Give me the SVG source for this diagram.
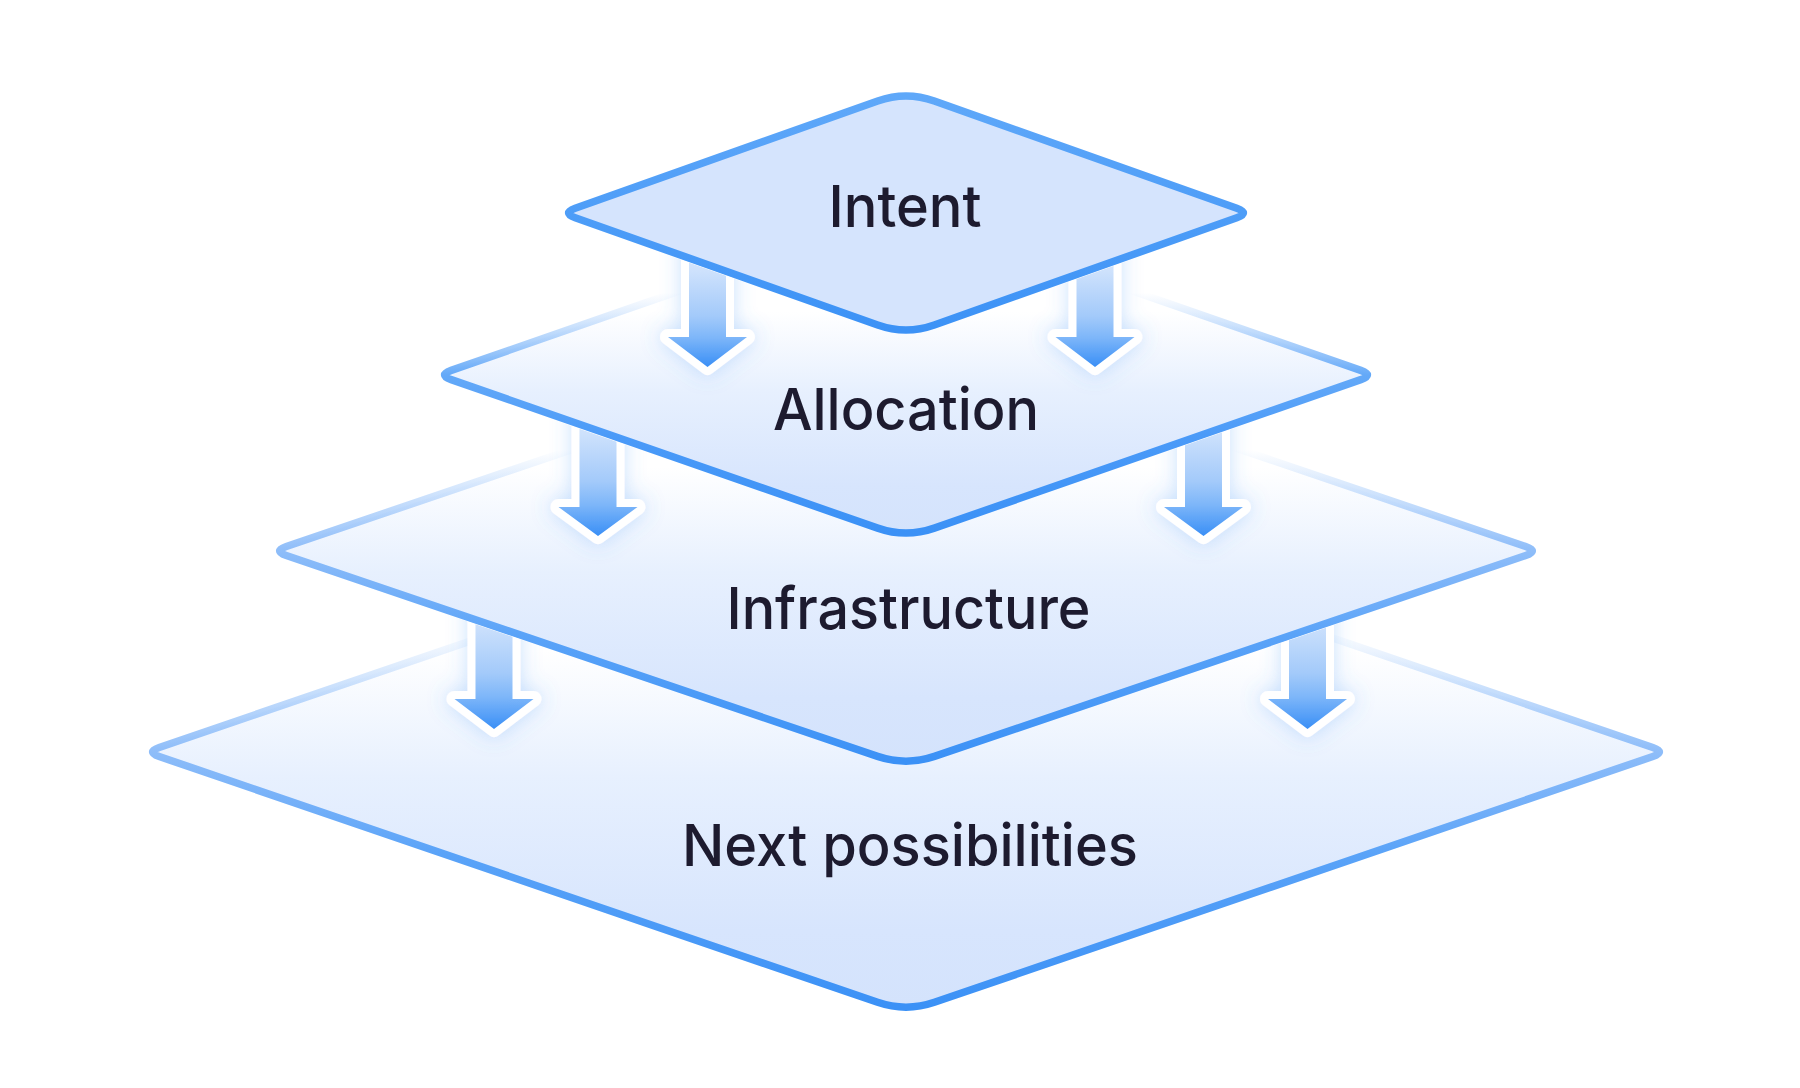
<svg xmlns="http://www.w3.org/2000/svg" width="1800" height="1088" viewBox="0 0 1800 1088">
<defs>
<style>
.label{font-family:Inter,"Noto Sans","Liberation Sans",sans-serif;font-weight:500;font-size:58px;fill:#1d1b2f;text-anchor:middle}
.layer{stroke-width:7.5;stroke-linejoin:round;fill:url(#layerFill);stroke:url(#layerStroke)}
.mid{stroke:url(#midStroke)}
.top{stroke-width:7.5;stroke-linejoin:round;fill:#d5e4fd;stroke:url(#topStroke)}
.arrow{stroke:#ffffff;stroke-width:16;stroke-linejoin:round;paint-order:stroke;fill:url(#arrowFill)}
</style>
<linearGradient id="layerFill" x1="0" y1="0" x2="0" y2="1">
<stop offset="0" stop-color="#ffffff"/>
<stop offset="0.3" stop-color="#ffffff"/>
<stop offset="0.55" stop-color="#e7f0fe"/>
<stop offset="0.85" stop-color="#d7e5fd"/>
<stop offset="1" stop-color="#d4e3fc"/>
</linearGradient>
<linearGradient id="layerStroke" x1="0" y1="0" x2="0" y2="1">
<stop offset="0" stop-color="#8fbef9" stop-opacity="0"/>
<stop offset="0.26" stop-color="#8fbef9" stop-opacity="0"/>
<stop offset="0.5" stop-color="#8ebdf9"/>
<stop offset="0.7" stop-color="#5aa3f8"/>
<stop offset="1" stop-color="#3b91f6"/>
</linearGradient>
<linearGradient id="midStroke" x1="0" y1="0" x2="0" y2="1">
<stop offset="0" stop-color="#8fbef9" stop-opacity="0"/>
<stop offset="0.24" stop-color="#8fbef9" stop-opacity="0"/>
<stop offset="0.5" stop-color="#64a9f8"/>
<stop offset="0.7" stop-color="#4a9af8"/>
<stop offset="1" stop-color="#3b91f6"/>
</linearGradient>
<linearGradient id="topStroke" x1="0" y1="0" x2="0" y2="1">
<stop offset="0" stop-color="#5fa8f9"/>
<stop offset="1" stop-color="#3c92f6"/>
</linearGradient>
<linearGradient id="arrowFill" x1="0" y1="0" x2="0" y2="1">
<stop offset="0" stop-color="#e3eefe"/>
<stop offset="0.25" stop-color="#cde1fc"/>
<stop offset="0.6" stop-color="#a3cafa"/>
<stop offset="0.77" stop-color="#7db6f9"/>
<stop offset="1" stop-color="#3a8ff6"/>
</linearGradient>
<filter id="glow" x="-60%" y="-30%" width="220%" height="160%">
<feGaussianBlur in="SourceAlpha" stdDeviation="10" result="b"/>
<feFlood flood-color="#4d9bf8" flood-opacity="0.3"/>
<feComposite in2="b" operator="in" result="g"/>
<feMerge><feMergeNode in="g"/><feMergeNode in="SourceGraphic"/></feMerge>
</filter>
<clipPath id="belowIntent"><path clip-rule="evenodd" d="M0 0H1800V1088H0Z M906 86.5L1263 213L906 339.5L549 213Z"/></clipPath>
<clipPath id="belowAllocation"><path clip-rule="evenodd" d="M0 0H1800V1088H0Z M906 207.5L1387 375L906 542.5L425 375Z"/></clipPath>
<clipPath id="belowInfrastructure"><path clip-rule="evenodd" d="M0 0H1800V1088H0Z M906 331.5L1552 551L906 770.5L260 551Z"/></clipPath>
</defs>
<rect width="1800" height="1088" fill="#ffffff"/>
<g id="layer-next-possibilities">
<path class="layer" d="M159.2 747.5L877.6 501.7Q906 492 934.4 501.7L1652.8 747.5Q1666 752 1652.8 756.5L934.4 1002.3Q906 1012 877.6 1002.3L159.2 756.5Q146 752 159.2 747.5Z"/>
<text class="label" x="910" y="866" textLength="456" lengthAdjust="spacingAndGlyphs">Next possibilities</text>
</g>
<g id="layer-infrastructure">
<path class="layer" d="M286.3 546.5L877.6 345.6Q906 336 934.4 345.6L1525.7 546.5Q1539 551 1525.7 555.5L934.4 756.4Q906 766 877.6 756.4L286.3 555.5Q273 551 286.3 546.5Z"/>
<text class="label" x="908.5" y="629" textLength="364" lengthAdjust="spacingAndGlyphs">Infrastructure</text>
</g>
<g id="layer-allocation">
<path class="layer mid" d="M451.2 370.4L877.7 221.9Q906 212 934.3 221.9L1360.8 370.4Q1374 375 1360.8 379.6L934.3 528.1Q906 538 877.7 528.1L451.2 379.6Q438 375 451.2 370.4Z"/>
<text class="label" x="906" y="429.5" textLength="266" lengthAdjust="spacingAndGlyphs">Allocation</text>
</g>
<g id="layer-intent">
<path class="top" d="M575.2 208.3L877.7 101Q906 91 934.3 101L1236.8 208.3Q1250 213 1236.8 217.7L934.3 325Q906 335 877.7 325L575.2 217.7Q562 213 575.2 208.3Z"/>
<text class="label" x="905" y="227" textLength="153" lengthAdjust="spacingAndGlyphs">Intent</text>
</g>
<g id="connectors">
<g clip-path="url(#belowIntent)"><g filter="url(#glow)">
<path class="arrow" d="M689 240V337H668L707.5 367L747 337H726V240Z"/>
<path class="arrow" d="M1076.5 240V337H1055.5L1095 367L1134.5 337H1113.5V240Z"/>
</g></g>
<g clip-path="url(#belowAllocation)"><g filter="url(#glow)">
<path class="arrow" d="M579.5 400V507H558.5L598 536L637.5 507H616.5V400Z"/>
<path class="arrow" d="M1185 400V507H1164L1203.5 536L1243 507H1222V400Z"/>
</g></g>
<g clip-path="url(#belowInfrastructure)"><g filter="url(#glow)">
<path class="arrow" d="M475.5 590V699H454.5L494 729L533.5 699H512.5V590Z"/>
<path class="arrow" d="M1289 590V699H1268L1307.5 729L1347 699H1326V590Z"/>
</g></g>
</g>
</svg>
